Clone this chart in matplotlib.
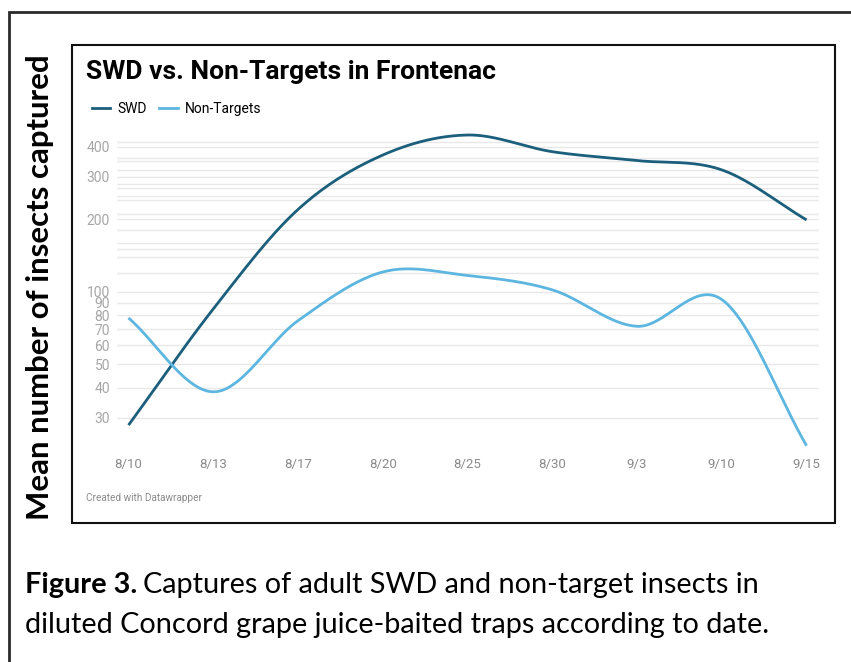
import numpy as np
import matplotlib
matplotlib.use("Agg")
import matplotlib.pyplot as plt
from matplotlib.patches import Rectangle
from matplotlib.lines import Line2D

dates = ["8/10", "8/13", "8/17", "8/20", "8/25", "8/30", "9/3", "9/10", "9/15"]
swd = [28, 85, 220, 370, 448, 382, 351, 321, 199]
non_targets = [78, 38.5, 76, 121, 117, 102, 72, 93, 23]

y_ticks = [30, 40, 50, 60, 70, 80, 90, 100, 200, 300, 400]
y_grid_extra = [120, 140, 150, 160, 180, 210, 240, 250, 270, 280, 320, 350, 360, 420]

SWD_COLOR = "#1b5f7c"
NT_COLOR = "#5cb6df"
W, H = 851, 662


def smooth(values, n=40):
    # catmull-rom style hermite spline through the points, in log space
    y = np.log10(np.asarray(values, dtype=float))
    k = len(y)
    m = np.zeros(k)
    m[1:-1] = (y[2:] - y[:-2]) / 2
    m[0] = y[1] - y[0]
    m[-1] = y[-1] - y[-2]
    xs, ys = [], []
    for i in range(k - 1):
        t = np.linspace(0, 1, n, endpoint=(i == k - 2))
        h00 = 2 * t**3 - 3 * t**2 + 1
        h10 = t**3 - 2 * t**2 + t
        h01 = -2 * t**3 + 3 * t**2
        h11 = t**3 - t**2
        xs.append(i + t)
        ys.append(h00 * y[i] + h10 * m[i] + h01 * y[i + 1] + h11 * m[i + 1])
    return np.concatenate(xs), 10 ** np.concatenate(ys)


fig = plt.figure(figsize=(W / 100, H / 100), dpi=100)

ax = fig.add_axes([117 / W, 1 - 448 / H, (819 - 117) / W, (448 - 125) / H])
ax.set_yscale("log")
ax.set_ylim(22.5, 493)
ax.set_xlim(-0.136, 8.147)

for v in y_ticks + y_grid_extra:
    ax.axhline(v, color="#e8e8e8", lw=1, zorder=0)

x, y = smooth(swd)
ax.plot(x, y, color=SWD_COLOR, lw=2, label="SWD", solid_capstyle="butt")
x, y = smooth(non_targets)
ax.plot(x, y, color=NT_COLOR, lw=2, label="Non-Targets", solid_capstyle="butt")

ax.set_yticks(y_ticks)
ax.set_yticklabels([str(v) for v in y_ticks])
ax.yaxis.set_minor_locator(matplotlib.ticker.NullLocator())
ax.set_xticks(range(len(dates)))
ax.set_xticklabels(dates)
ax.tick_params(axis="y", length=0, pad=5, labelsize=10, labelcolor="#a6a6a6")
ax.tick_params(axis="x", length=0, pad=7, labelsize=9.5, labelcolor="#8a8a8a")
for lbl in ax.get_xticklabels() + ax.get_yticklabels():
    lbl.set_fontfamily(["Roboto", "DejaVu Sans"])
for s in ax.spines.values():
    s.set_visible(False)

fig.text(86 / W, 1 - 72 / H, "SWD vs. Non-Targets in Frontenac", family="Roboto",
         weight="bold", fontsize=19, va="center", ha="left")

handles = [Line2D([], [], color=SWD_COLOR, lw=2), Line2D([], [], color=NT_COLOR, lw=2)]
fig.legend(handles, ["SWD", "Non-Targets"], loc="center left",
           bbox_to_anchor=(79 / W, 1 - 109 / H), ncol=2, frameon=False,
           handlelength=1.35, handletextpad=0.5, columnspacing=0.9,
           prop={"family": "Roboto", "size": 10})

fig.text(86 / W, 1 - 498 / H, "Created with Datawrapper", family="Roboto",
         fontsize=7.2, color="#8a8a8a", va="center", ha="left")

fig.text(40 / W, 1 - 287 / H, "Mean number of insects captured", family="Lato",
         weight="bold", fontsize=22.4, rotation=90, va="center", ha="center")

# inner chart frame and outer figure frame
fig.add_artist(Rectangle((72 / W, 1 - 523 / H), (835 - 72) / W, (523 - 45) / H,
                         transform=fig.transFigure, fill=False, ec="#111111", lw=1.5))
fig.add_artist(Rectangle((9 / W, -0.1), 1.2, 1 - 12 / H + 0.1,
                         transform=fig.transFigure, fill=False, ec="#2a2a2a", lw=2))

cap_size = 20.8
cap1 = fig.text(25 / W, 1 - 585 / H, "Figure 3.", family="Lato", weight="bold",
                fontsize=cap_size, va="center", ha="left")
fig.canvas.draw()
bb = cap1.get_window_extent()
fig.text(bb.x1 / W + 6 / W, 1 - 585 / H,
         "Captures of adult SWD and non-target insects in", family="Lato",
         fontsize=cap_size, va="center", ha="left")
fig.text(25 / W, 1 - 625 / H,
         "diluted Concord grape juice-baited traps according to date.", family="Lato",
         fontsize=cap_size, va="center", ha="left")

fig.savefig("out.png", dpi=100)
